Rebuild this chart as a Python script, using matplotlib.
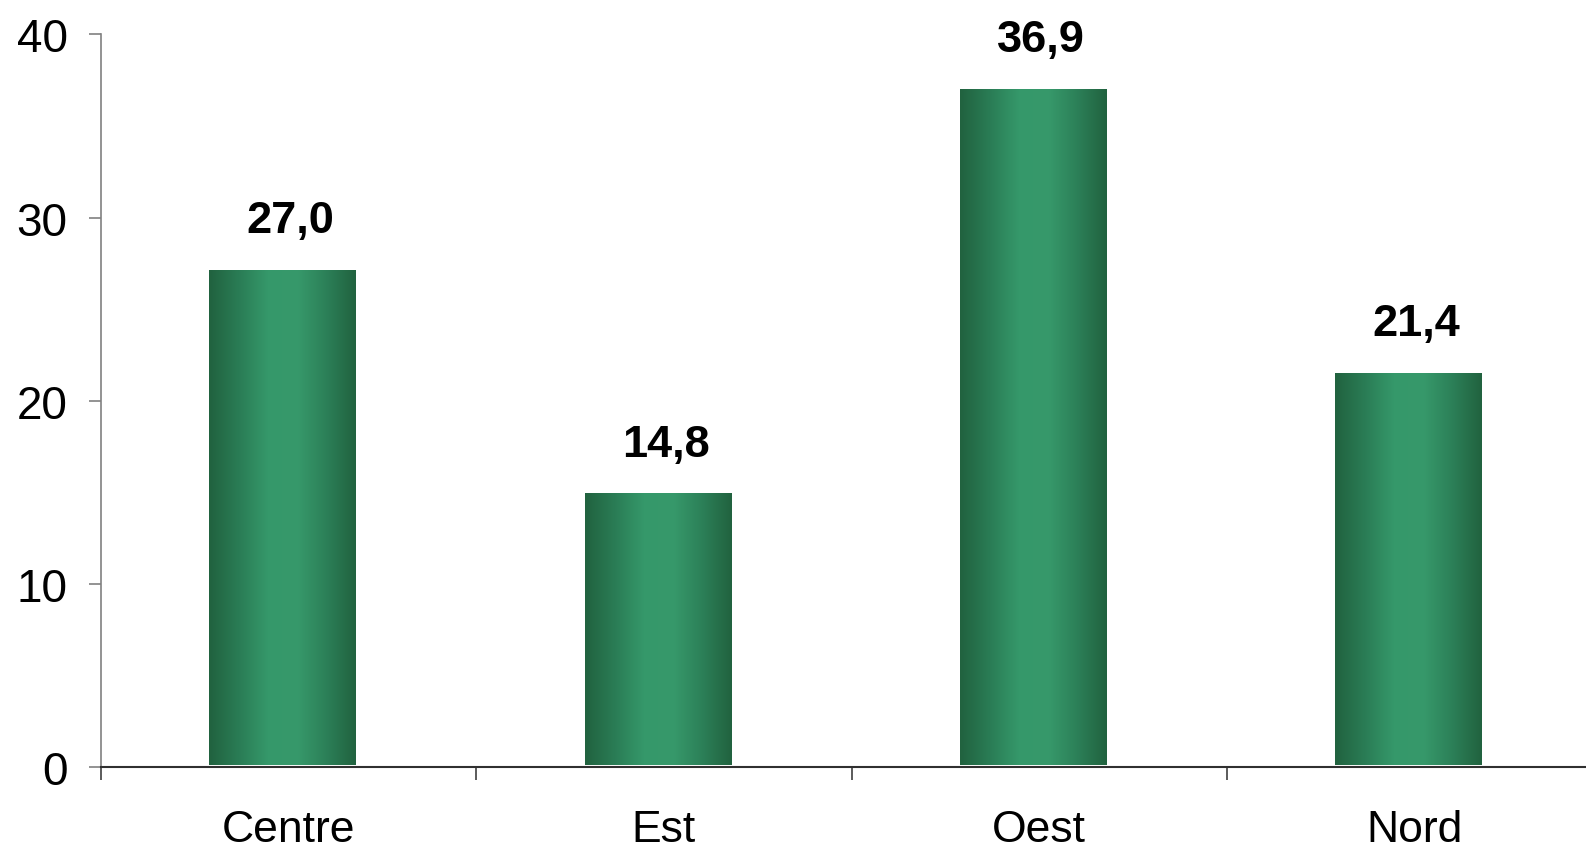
import numpy as np
import matplotlib
matplotlib.use("Agg")
import matplotlib.pyplot as plt
from matplotlib.colors import LinearSegmentedColormap

categories = ["Centre", "Est", "Oest", "Nord"]
values = [27.0, 14.8, 36.9, 21.4]
labels = ["27,0", "14,8", "36,9", "21,4"]
yticks = [0, 10, 20, 30, 40]

plt.rcParams['font.family'] = ['Liberation Sans', 'DejaVu Sans']

W, H = 1586, 853
fig = plt.figure(figsize=(W / 100, H / 100), dpi=100)
left = 101 / W
right = 1602 / W
bottom = 1 - 768 / H
top = 1 - 35.4 / H
ax = fig.add_axes([left, bottom, right - left, top - bottom])

cmap = LinearSegmentedColormap.from_list(
    "g", ["#21623f", "#2a7c55", "#35986a", "#37996b", "#2c8058", "#21623f"])
grad = np.linspace(0, 1, 256).reshape(1, -1)

bw = 0.39
base = 0.1
for i, v in enumerate(values):
    xc = i + 0.5 - 0.016
    ax.imshow(grad, cmap=cmap, aspect='auto', interpolation='bilinear',
              extent=(xc - bw / 2, xc + bw / 2, base, base + v), zorder=2)
    ax.annotate(labels[i], (i + 0.5 + 0.005, base + v), xytext=(0, 21),
                textcoords='offset points', ha='center', va='bottom',
                fontsize=32.5, fontweight='bold', color='black')

ax.set_xlim(0, 4)
ax.set_ylim(0, 40)
ax.set_yticks(yticks)
ax.set_yticklabels([str(t) for t in yticks])
ax.set_xticks([0, 1, 2, 3, 4])
ax.set_xticklabels([])
ax.set_xticks([i + 0.5 for i in range(4)], minor=True)
ax.set_xticklabels(categories, minor=True)

ax.tick_params(axis='y', which='major', length=9, width=1.2, color='#808080',
               labelsize=33, pad=15)
ax.tick_params(axis='x', which='major', length=9, width=1.2, color='#404040')
ax.tick_params(axis='x', which='minor', length=0, labelsize=32, pad=30)

for s in ['top', 'right']:
    ax.spines[s].set_visible(False)
ax.spines['left'].set_color('#808080')
ax.spines['left'].set_linewidth(1.2)
ax.spines['bottom'].set_color('#303030')
ax.spines['bottom'].set_linewidth(1.5)

fig.savefig("out.png", dpi=100)
